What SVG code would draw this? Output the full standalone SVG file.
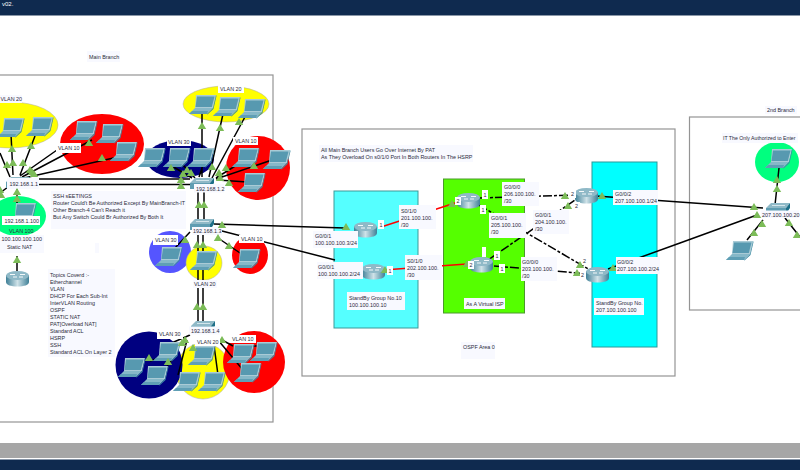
<svg xmlns="http://www.w3.org/2000/svg" width="800" height="470" viewBox="0 0 800 470">
<style>
text{font-family:"Liberation Sans",Arial,sans-serif;font-size:5.4px;fill:#2a2a3a}
.l{fill:#f8f9ff}
.w{fill:#fff}
.f{fill:none;stroke:#949494;stroke-width:1.2}
.c{stroke:#000;stroke-width:1.500;fill:none}
.d{stroke:#000;stroke-width:1.500;fill:none;stroke-dasharray:9 2 3 2}
.r{stroke:#f00;stroke-width:1.500;fill:none}
.t{fill:#7cbc58}
</style>
<defs>
<g id="laptop">
<polygon points="7,0 27,0 24,13 6,13" fill="#a9cbd6"/>
<polygon points="8,1.500 25.500,1.500 22.800,12 6.500,12" fill="#5799b0"/>
<polygon points="6,13 24,13 18,19 0,19" fill="#86b8c8"/>
<polygon points="27,0 27.500,1 24.500,14 18.500,19.500 18,19 24,13" fill="#3d8aa2"/>
<polygon points="3,16 19,16 18,19 0,19" fill="#5f9fb5"/>
</g>
<linearGradient id="rg" x1="0" x2="1" y1="0" y2="0"><stop offset="0" stop-color="#3f8097"/><stop offset=".5" stop-color="#cfe2e8"/><stop offset="1" stop-color="#3f8097"/></linearGradient>
<g id="router">
<path d="M0,4V11C0,14 5,15.500 11.500,15.500S23,14 23,11V4Z" fill="url(#rg)"/>
<ellipse cx="11.500" cy="4.500" rx="11.500" ry="4.500" fill="#8fb9c7"/>
<path d="M4,3.500h5M14,3.500h5M7,6h4M13,6h4" stroke="#fff" stroke-width=".9"/>
</g>
<g id="switch">
<polygon points="6,0 25,0 21,5 1,5" fill="#8fb9c7"/>
<polygon points="1,5 21,5 21,11 1,11" fill="#5f9db2"/>
<polygon points="25,0 25,5 21,11 21,5" fill="#1d6f88"/>
<path d="M7,2.500h13" stroke="#e4f0f4" stroke-width=".8"/>
</g>
<polygon id="tri" class="t" points="0,-4 4.200,3 -4.200,3"/>
</defs>

<rect width="800" height="470" fill="#fff"/>
<g id="chrome">
<rect width="800" height="15" fill="#0f2a4f"/>
<rect y="15" width="800" height="1" fill="#8a97a8"/>
<rect y="443" width="800" height="15" fill="#a6a6a6"/>
<rect y="459.500" width="800" height="10.500" fill="#0f2a4f"/>
<text x="2" y="6" style="fill:#fff;font-size:6px">v02.</text>
</g>

<g id="frames">
<rect class="f" x="-10" y="75" width="283" height="347"/>
<rect class="f" x="302" y="129" width="373" height="247"/>
<rect class="f" x="689.500" y="117" width="130" height="193"/>
<rect x="334" y="191" width="84" height="137" fill="#55ffff" stroke="#3c9a9a"/>
<rect x="443.500" y="179" width="81" height="134" fill="#55ff00" stroke="#4a9a2a"/>
<rect x="592" y="162" width="65" height="185" fill="#00ffff" stroke="#2a9a9a"/>
</g>

<g id="zones">
<ellipse cx="10" cy="125" rx="48" ry="23" fill="#ff0" stroke="#aaa" stroke-width=".5"/>
<ellipse cx="102" cy="144" rx="42" ry="30" fill="#f00"/>
<ellipse cx="180" cy="159" rx="34" ry="19" fill="#000080"/>
<ellipse cx="226" cy="104" rx="43" ry="18" fill="#ff0" stroke="#aaa" stroke-width=".5"/>
<ellipse cx="258" cy="168" rx="32" ry="32" fill="#f00"/>
<ellipse cx="18" cy="216" rx="28" ry="20" fill="#00ff7f"/>
<circle cx="170" cy="252" r="21" fill="#5555ff"/>
<ellipse cx="204" cy="263" rx="18" ry="17" fill="#ff0" stroke="#aaa" stroke-width=".5"/>
<ellipse cx="250" cy="255" rx="18" ry="19" fill="#f00"/>
<ellipse cx="203" cy="371" rx="27" ry="28" fill="#ff0" stroke="#aaa" stroke-width=".5"/>
<circle cx="149" cy="365" r="33.500" fill="#000080"/>
<circle cx="254" cy="362" r="31" fill="#f00"/>
<ellipse cx="777" cy="162" rx="22" ry="20" fill="#00ff7f"/>
</g>

<g id="connectors">
<path class="c" d="M11,134L13,175M35,136L20,175M0,153L10,177M57,150L20,176M92,140L22,177M118,157L24,178M17,189V204M0,193L8,187"/>
<path class="c" d="M39,179H190M39,184.500H190"/>
<path class="c" d="M202,112V177M223,114L209,177M246,115L212,178M172,166L192,178M183,165L195,178M203,165L199,177M240,163L216,178M272,160L216,179M247,182L218,180"/>
<path class="c" d="M198,190V222M204,190V222"/>
<path class="c" d="M214,224L345,228M222,231L335,260M190,232L175,248M218,238L243,255"/>
<path class="c" d="M198,232V322M203,232V322"/>
<path class="c" d="M190,335L160,348M163,357L150,361M167,366L172,360M187,340L178,375M213,338L218,375M218,340L243,370M222,340L233,346M262,346L250,346"/>
<path class="c" d="M17,256V271"/>
<path class="c" d="M596,196L763,208M608,269L680,243L757,215M775,205L779,168M763,220L747,240M785,218L800,237"/>
<path class="r" d="M378,228L455,203M383,270L467,264"/>
<path class="d" d="M479,198L577,195M479,205L590,270M488,260L578,198M494,266L590,274"/>
</g>

<g id="laptops">
<use href="#laptop" x="-30" y="117"/><use href="#laptop" x="-3" y="118"/><use href="#laptop" x="26" y="117"/>
<use href="#laptop" x="70" y="121"/><use href="#laptop" x="96" y="124"/><use href="#laptop" x="110" y="142"/>
<use href="#laptop" x="138" y="148"/><use href="#laptop" x="163" y="148"/><use href="#laptop" x="187" y="148"/>
<use href="#laptop" x="189" y="95"/><use href="#laptop" x="213" y="97"/><use href="#laptop" x="238" y="99"/>
<use href="#laptop" x="232" y="148"/><use href="#laptop" x="263" y="150"/><use href="#laptop" x="238" y="173"/>
<use href="#laptop" x="9" y="203"/>
<use href="#laptop" x="155" y="247"/><use href="#laptop" x="190" y="251"/><use href="#laptop" x="233" y="249"/>
<use href="#laptop" x="118" y="358"/><use href="#laptop" x="141" y="366"/><use href="#laptop" x="153" y="342"/>
<use href="#laptop" x="173" y="372"/><use href="#laptop" x="198" y="372"/><use href="#laptop" x="188" y="346"/>
<use href="#laptop" x="227" y="344"/><use href="#laptop" x="250" y="342"/><use href="#laptop" x="234" y="363"/>
<use href="#laptop" x="765" y="149"/><use href="#laptop" x="726" y="241"/>
</g>

<g id="switch-1"><use href="#switch" x="5" y="177"/><rect class="l" x="7" y="178" width="32" height="11"/><text x="9.500" y="186">192.168.1.1</text></g>
<g id="switch-2"><use href="#switch" x="189" y="178"/><rect class="l" x="194" y="184" width="30" height="8.500"/><text x="196" y="190.500">192.168.1.2</text></g>
<g id="switch-3"><use href="#switch" x="189" y="219"/><rect class="l" x="192" y="227" width="30" height="8"/><text x="193" y="233">192.168.1.3</text></g>
<g id="switch-4"><use href="#switch" x="190" y="321"/><rect class="l" x="189" y="326.500" width="31" height="8"/><text x="191" y="332.500">192.168.1.4</text></g>
<g id="switch-5"><use href="#switch" x="765" y="203"/><rect class="l" x="761" y="210.500" width="38" height="7.500"/><text x="762" y="216.500">207.100.100.20</text></g>

<g id="router-static"><use href="#router" x="6" y="271"/></g>
<g id="router-1"><use href="#router" x="354" y="222"/></g>
<g id="router-2"><use href="#router" x="362" y="264"/></g>
<g id="router-3"><use href="#router" x="457" y="193"/></g>
<g id="router-4"><use href="#router" x="470" y="257"/></g>
<g id="router-5"><use href="#router" x="575" y="188"/></g>
<g id="router-6"><use href="#router" x="586" y="267"/></g>

<g id="markers">
<use href="#tri" x="12" y="149"/><use href="#tri" x="13" y="163"/><use href="#tri" x="31" y="146"/><use href="#tri" x="23" y="163"/><use href="#tri" x="7" y="165"/><use href="#tri" x="30" y="170"/><use href="#tri" x="89" y="143"/><use href="#tri" x="32" y="172"/><use href="#tri" x="102" y="158"/><use href="#tri" x="34" y="174"/><use href="#tri" x="17" y="192"/><use href="#tri" x="17" y="199"/><use href="#tri" x="0" y="190"/><use href="#tri" x="1" y="195"/>
<use href="#tri" x="202" y="126"/><use href="#tri" x="220" y="128"/><use href="#tri" x="212" y="167"/><use href="#tri" x="239" y="122"/><use href="#tri" x="171" y="168"/><use href="#tri" x="183" y="174"/><use href="#tri" x="187" y="170"/><use href="#tri" x="191" y="173"/><use href="#tri" x="226" y="168"/><use href="#tri" x="219" y="173"/><use href="#tri" x="220" y="178"/><use href="#tri" x="254" y="166"/><use href="#tri" x="229" y="183"/><use href="#tri" x="181" y="180"/><use href="#tri" x="181" y="186"/>
<use href="#tri" x="199" y="205"/><use href="#tri" x="204" y="205"/>
<use href="#tri" x="222" y="225"/><use href="#tri" x="185" y="240"/><use href="#tri" x="197" y="245"/><use href="#tri" x="203" y="245"/><use href="#tri" x="218" y="238"/><use href="#tri" x="229" y="246"/>
<use href="#tri" x="197" y="307"/><use href="#tri" x="203" y="307"/>
<use href="#tri" x="185" y="340"/><use href="#tri" x="182" y="343"/><use href="#tri" x="193" y="348"/><use href="#tri" x="222" y="340"/><use href="#tri" x="149" y="358"/><use href="#tri" x="168" y="362"/>
<use href="#tri" x="17" y="260"/>
<use href="#tri" x="346" y="227"/><use href="#tri" x="452" y="204"/><use href="#tri" x="385" y="270"/><use href="#tri" x="467" y="264"/>
<use href="#tri" x="565" y="196"/><use href="#tri" x="568" y="206"/><use href="#tri" x="580" y="265"/><use href="#tri" x="577" y="273"/><use href="#tri" x="602" y="196"/><use href="#tri" x="613" y="268"/>
<use href="#tri" x="754" y="207"/><use href="#tri" x="757" y="215"/><use href="#tri" x="777" y="180"/><use href="#tri" x="777" y="189"/><use href="#tri" x="762" y="224"/><use href="#tri" x="754" y="233"/><use href="#tri" x="789" y="223"/><use href="#tri" x="797" y="235"/>
</g>

<g id="labels">
<rect class="l" x="87" y="51" width="33" height="11"/><text x="89" y="59">Main Branch</text>
<rect class="l" x="0" y="95" width="22" height="8"/><text x="0.500" y="101">VLAN 20</text>
<rect class="w" x="56" y="143" width="25" height="10"/><text x="58" y="150">VLAN 10</text>
<rect class="w" x="167" y="138" width="24" height="8"/><text x="168" y="144">VLAN 30</text>
<rect class="w" x="218" y="84" width="26" height="9"/><text x="220" y="91">VLAN 20</text>
<rect class="w" x="233" y="137" width="25" height="8"/><text x="235" y="143">VLAN 10</text>
<rect class="w" x="2" y="216" width="38" height="9"/><text x="4.500" y="223">192.168.1.100</text>
<text x="9" y="233">VLAN 100</text>
<rect class="l" x="0" y="235" width="44" height="18"/><text x="1.500" y="241">100.100.100.100</text><text x="7" y="249">Static NAT</text>
<rect class="l" x="95" y="243" width="4" height="10"/>
<rect class="l" x="51" y="191" width="135" height="38"/>
<text x="53" y="198">SSH sEETINGS</text><text x="53" y="205">Router Could't Be Authorized Except By MainBranch-IT</text><text x="53" y="212">Other Branch-4 Can't Reach it</text><text x="53" y="219">But Any Switch Could Br Authorized By Both It</text>
<rect class="w" x="153" y="235" width="25" height="10"/><text x="155" y="242">VLAN 30</text>
<rect class="l" x="193" y="280" width="24" height="8"/><text x="194" y="286">VLAN 20</text>
<rect class="w" x="239" y="235" width="25" height="8"/><text x="241" y="241">VLAN 10</text>
<rect class="w" x="157" y="329" width="26" height="10"/><text x="159" y="336">VLAN 30</text>
<rect class="w" x="195" y="338" width="25" height="8"/><text x="197" y="344">VLAN 20</text>
<rect class="w" x="230" y="335" width="26" height="8"/><text x="232" y="341">VLAN 10</text>
<rect class="l" x="48" y="269" width="67" height="88"/>
<text x="50" y="277">Topics Coverd :-</text><text x="50" y="284">Etherchannel</text><text x="50" y="291">VLAN</text><text x="50" y="298">DHCP For Each Sub-Int</text><text x="50" y="305">InterVLAN Routing</text><text x="50" y="312">OSPF</text><text x="50" y="319">STATIC NAT</text><text x="50" y="326">PAT[Overload NAT]</text><text x="50" y="333">Standard ACL</text><text x="50" y="340">HSRP</text><text x="50" y="347">SSH</text><text x="50" y="354">Standard ACL On Layer 2</text>

<rect class="l" x="319" y="145" width="154" height="17"/><text x="321" y="152">All Main Branch Users Go Over Internet By PAT</text><text x="321" y="159">As They Overload On s0/1/0 Port In Both Routers In The HSRP</text>
<rect class="l" x="313" y="231" width="45" height="17"/><text x="315" y="238">G0/0/1</text><text x="315" y="245">100.100.100.3/24</text>
<rect class="l" x="317" y="262" width="46" height="17"/><text x="318" y="269">G0/0/1</text><text x="318" y="276">100.100.100.2/24</text>
<rect class="l" x="399" y="205" width="37" height="24"/><text x="401" y="213">S0/1/0</text><text x="401" y="220">201.100.100.</text><text x="401" y="227">/30</text>
<rect class="l" x="405" y="255" width="37" height="25"/><text x="407" y="263">S0/1/0</text><text x="407" y="270">202.100.100.</text><text x="407" y="277">/30</text>
<rect class="l" x="347" y="292" width="58" height="18"/><text x="349" y="300">StandBy Group No.10</text><text x="349" y="307">100.100.100.10</text>
<rect class="l" x="502" y="182" width="37" height="24"/><text x="504" y="189">G0/0/0</text><text x="504" y="196">206.100.100.</text><text x="504" y="203">/30</text>
<rect class="l" x="489" y="213" width="37" height="25"/><text x="491" y="220">G0/0/1</text><text x="491" y="227">205.100.100.</text><text x="491" y="234">/30</text>
<rect class="l" x="533" y="210" width="36" height="24"/><text x="535" y="217">G0/0/1</text><text x="535" y="224">204.100.100.</text><text x="535" y="231">/30</text>
<rect class="l" x="521" y="257" width="36" height="24"/><text x="522" y="264">G0/0/0</text><text x="522" y="271">203.100.100.</text><text x="522" y="278">/30</text>
<rect class="l" x="613" y="190" width="45" height="15"/><text x="615" y="196">G0/0/2</text><text x="615" y="203">207.100.100.1/24</text>
<rect class="l" x="616" y="257" width="44" height="17"/><text x="617" y="264">G0/0/2</text><text x="617" y="271">207.100.100.2/24</text>
<rect class="l" x="464" y="298" width="41" height="11"/><text x="466" y="306">As A Virtual ISP</text>
<rect class="l" x="594" y="298" width="50" height="17"/><text x="596" y="305">StandBy Group No.</text><text x="596" y="312">207.100.100.100</text>
<rect class="l" x="461" y="342" width="34" height="17"/><text x="463" y="349">OSPF Area 0</text>
<rect class="l" x="765" y="106" width="32" height="8"/><text x="767" y="112">2nd Branch</text>
<rect class="l" x="722" y="133" width="76" height="10"/><text x="723" y="140" style="font-size:5.200px">IT The Only Authorized to Enter</text>

<rect class="w" x="378" y="220" width="6" height="9"/><text x="379.500" y="227">1</text>
<rect class="w" x="387" y="266" width="6" height="9"/><text x="388.500" y="273">1</text>
<rect class="w" x="455" y="197" width="6" height="8"/><text x="456.500" y="203">2</text>
<rect class="w" x="468" y="261" width="6" height="8"/><text x="469.500" y="267">2</text>
<rect class="w" x="482" y="190" width="6" height="9"/><text x="483.500" y="197">1</text>
<rect class="w" x="480" y="205" width="6" height="9"/><text x="481.500" y="212">1</text>
<rect class="w" x="494" y="251" width="6" height="9"/><text x="495.500" y="258">1</text>
<rect class="w" x="499" y="264" width="6" height="9"/><text x="500.500" y="271">1</text>
<rect class="w" x="482" y="247" width="4" height="10"/>
<rect class="w" x="570" y="190" width="6" height="8"/><text x="571" y="196">2</text>
<rect class="w" x="574" y="202" width="6" height="8"/><text x="575" y="208">2</text>
<rect class="w" x="582" y="257" width="6" height="8"/><text x="583" y="263">2</text>
<rect class="w" x="580" y="271" width="6" height="8"/><text x="581" y="277">2</text>
</g>
</svg>
